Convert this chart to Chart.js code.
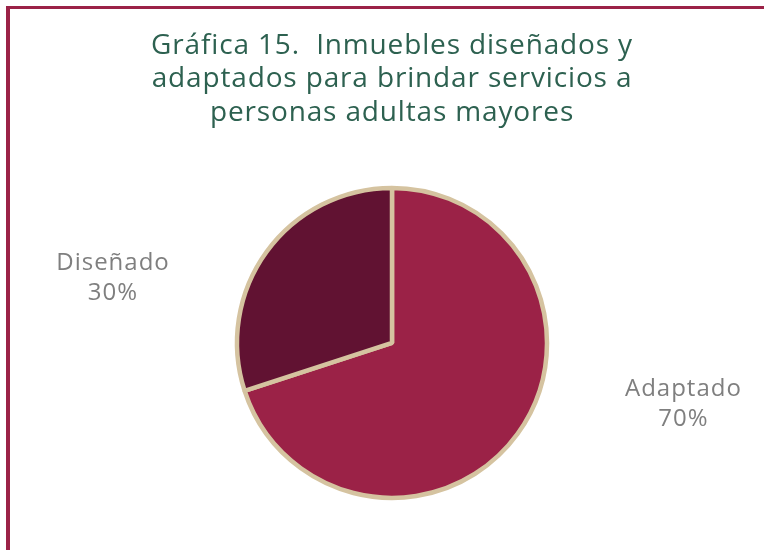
<!DOCTYPE html>
<html>
<head>
<meta charset="utf-8">
<script src="https://cdn.jsdelivr.net/npm/chart.js@4"></script>
<style>
html,body{margin:0;padding:0;background:#fff;}
#wrap{position:relative;width:764px;height:550px;overflow:hidden;}
#frame{position:absolute;left:6px;top:6px;right:-10px;bottom:-10px;border-top:3px solid #9B2247;border-left:4px solid #9B2247;pointer-events:none;}
</style>
</head>
<body>
<div id="wrap"><canvas id="c"></canvas><div id="frame"></div></div>
<script>
const titleLines = ["Gráfica 15.  Inmuebles diseñados y", "adaptados para brindar servicios a", "personas adultas mayores"];
const categories = ["Adaptado", "Diseñado"];
const values = [70, 30];
const percentLabels = ["70%", "30%"];

const FONT = "'Open Sans', sans-serif";

const spacingPlugin = {
  id: 'spacingPlugin',
  beforeDraw(chart, args, opts) {
    chart.ctx.letterSpacing = opts.title;
  }
};

const outsideLabels = {
  id: 'outsideLabels',
  afterDatasetsDraw(chart, args, opts) {
    const ctx = chart.ctx;
    const meta = chart.getDatasetMeta(0);
    ctx.save();
    ctx.letterSpacing = opts.letterSpacing;
    ctx.font = opts.size + "px " + FONT;
    ctx.fillStyle = opts.color;
    ctx.textAlign = 'center';
    ctx.textBaseline = 'middle';
    meta.data.forEach((arc, i) => {
      const r = arc.outerRadius;
      const off = opts.offsets[i];
      const x = arc.x + off[0] * r;
      const y = arc.y + off[1] * r;
      ctx.fillText(chart.data.labels[i], x, y - opts.lineGap / 2);
      ctx.fillText(percentLabels[i], x, y + opts.lineGap / 2);
    });
    ctx.restore();
  }
};

new Chart(document.getElementById('c'), {
  type: 'pie',
  data: {
    labels: categories,
    datasets: [{
      data: values,
      backgroundColor: ['#9B2247', '#611232'],
      borderColor: '#D5C3A0',
      borderWidth: 4.5
    }]
  },
  options: {
    responsive: true,
    maintainAspectRatio: false,
    animation: false,
    devicePixelRatio: 1,
    radius: 155,
    layout: { padding: { left: 20, right: 0, top: 0, bottom: 30 } },
    plugins: {
      legend: { display: false },
      tooltip: { enabled: false },
      spacingPlugin: { title: '0.85px' },
      title: {
        display: true,
        text: titleLines,
        color: '#2D6150',
        font: { family: FONT, size: 28, weight: 'normal', lineHeight: 1.2 },
        padding: { top: 29, bottom: 36 }
      },
      outsideLabels: {
        size: 24,
        letterSpacing: '1px',
        color: '#7F7F7F',
        lineGap: 30,
        offsets: [[1.88, 0.395], [-1.80, -0.42]]
      }
    }
  },
  plugins: [spacingPlugin, outsideLabels]
});
</script>
</body>
</html>
